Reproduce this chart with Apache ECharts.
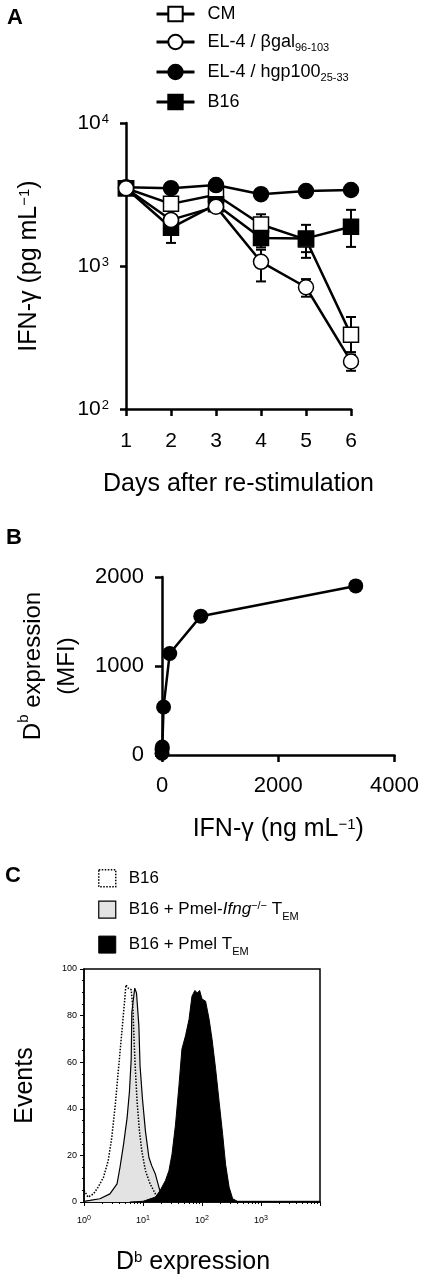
<!DOCTYPE html>
<html>
<head>
<meta charset="utf-8">
<script src="https://cdn.jsdelivr.net/npm/echarts@6/dist/echarts.min.js"></script>
<style>
body{margin:0;background:#fff;}
#wrap{position:relative;width:422px;height:1280px;}
.panel{position:absolute;left:0;width:422px;}
</style>
</head>
<body>
<div id="wrap">
  <div id="chartA" class="panel" style="top:0;height:510px"></div>
  <div id="chartB" class="panel" style="top:510px;height:340px"></div>
  <div id="chartC" class="panel" style="top:850px;height:430px"></div>
</div>
<script>
var FONT = "'Liberation Sans', Arial, sans-serif";

// ---- panel A data ----
var days = [1, 2, 3, 4, 5, 6];
var seriesNamesA = ['CM', 'EL-4 / βgal', 'EL-4 / hgp100', 'B16'];
var seriesSubsA = ['', '96-103', '25-33', ''];
var cmValues   = [3500, 2720, 3150, 1950, 1530, 330];
var bgalValues = [3500, 2100, 2600, 1070, 710, 215];
var hgpValues  = [3550, 3500, 3680, 3180, 3340, 3400];
var b16Values  = [3500, 1850, 2700, 1570, 1560, 1880];
var cmErrLow   = [null, null, null, 1650, 1250, 250];
var cmErrHigh  = [null, null, null, 2300, 1700, 440];
var bgalErrLow = [null, null, null, 780, 610, 185];
var bgalErrHigh= [null, null, null, 1300, 810, 240];
var b16ErrLow  = [null, 1450, null, 1350, 1140, 1360];
var b16ErrHigh = [null, 2250, null, 1800, 1940, 2470];

// ---- panel B data ----
var ifnDose = [0, 1.1, 5.3, 27, 133, 667, 3333];
var dbMfi   = [20, 60, 90, 540, 1140, 1560, 1900];

// ---- panel C data (histogram outlines: expression, events) ----
var b16X   = [1, 1.05, 1.17, 1.45, 1.74, 2.14, 2.57, 2.95, 3.39, 3.8, 4.37, 4.9, 5.13, 5.62, 6.31, 6.76, 7.08, 7.41, 7.94, 8.71, 9.55, 11, 13.2, 16.2, 18.6, 22.4, 30];
var b16Y   = [5, 4.2, 2.1, 3.5, 6.4, 10.6, 17.7, 27.5, 41.7, 55.8, 72.7, 86.9, 93.2, 91.8, 91.1, 82.6, 68.5, 57.2, 43.1, 30.4, 21.9, 13.4, 7.8, 3.5, 1.4, 0.3, 0];
var koX    = [1, 1.26, 1.86, 2.75, 3.63, 4.07, 4.68, 5.37, 5.89, 6.31, 6.46, 6.76, 7.24, 7.76, 8.51, 8.91, 9.77, 11, 12.6, 14.1, 16.2, 18.6, 20.4, 22.4, 28.2];
var koY    = [0.3, 0.7, 1.4, 3.5, 7.8, 14.8, 24.7, 36, 47.3, 61.4, 81.2, 85.5, 91.8, 89.7, 75.6, 58.6, 44.5, 30.4, 19.1, 15.5, 12, 6.4, 2.8, 0.7, 0];
var pmelX  = [6, 10, 16.2, 19.5, 24, 27.5, 31, 35.5, 40.7, 45.7, 52.5, 60.3, 67.6, 75.9, 83.2, 91.2, 100, 115, 132, 148, 170, 195, 224, 251, 288, 331, 398, 10000];
var pmelY  = [0, 0.3, 2.1, 4.9, 9.2, 13.4, 20.5, 33, 50, 65.7, 71.3, 78.4, 88.3, 90.8, 89.7, 90.8, 87.1, 86.2, 78.4, 69.9, 57.2, 43.1, 29, 16.2, 6.4, 1.4, 0.3, 0.3];
var legendC = ['B16', 'B16 + Pmel-Ifng', 'B16 + Pmel T'];

function pairs(xs, ys) {
    var out = [];
    for (var i = 0; i < xs.length; i++) out.push([xs[i], ys[i]]);
    return out;
}
function errData(lo, hi) {
    var out = [];
    for (var i = 0; i < days.length; i++) {
        if (lo[i] != null) out.push([days[i], lo[i], hi[i]]);
    }
    return out;
}
function renderErr(params, api) {
    var x = api.value(0);
    var p1 = api.coord([x, api.value(2)]);
    var p2 = api.coord([x, api.value(1)]);
    var w = 5, st = {stroke: '#000', lineWidth: 2};
    return {type: 'group', children: [
        {type: 'line', shape: {x1: p1[0], y1: p1[1], x2: p2[0], y2: p2[1]}, style: st},
        {type: 'line', shape: {x1: p1[0] - w, y1: p1[1], x2: p1[0] + w, y2: p1[1]}, style: st},
        {type: 'line', shape: {x1: p2[0] - w, y1: p2[1], x2: p2[0] + w, y2: p2[1]}, style: st}
    ]};
}
function pow10Label(v) {
    return '{b|10}{s|' + Math.round(Math.log(v) / Math.LN10) + '}';
}
function plainNum(v) {
    return String(v);
}

// ================= A =================
var chartA = echarts.init(document.getElementById('chartA'));
var lineStyleA = {color: '#000', width: 2.5};
function lineSeriesA(name, values, symbol, fill, z) {
    return {
        name: name, type: 'line', data: pairs(days, values),
        symbol: symbol, symbolSize: 15, z: z,
        lineStyle: lineStyleA,
        itemStyle: {color: fill, borderColor: '#000', borderWidth: 1.5}
    };
}
function errSeriesA(lo, hi) {
    return {type: 'custom', renderItem: renderErr, data: errData(lo, hi), z: 1, silent: true};
}
chartA.setOption({
    animation: false,
    textStyle: {fontFamily: FONT, color: '#000'},
    title: {text: 'A', left: 2, top: 2, textStyle: {fontFamily: FONT, fontSize: 22, fontWeight: 'bold', color: '#000'}},
    legend: {
        orient: 'vertical', left: 150, top: 0, itemGap: 10,
        itemWidth: 38, itemHeight: 18, selectedMode: false,
        lineStyle: {width: 3},
        data: seriesNamesA,
        formatter: function (name) {
            var i = seriesNamesA.indexOf(name);
            return '{n|' + name + '}' + (seriesSubsA[i] ? '{sub|' + seriesSubsA[i] + '}' : '');
        },
        textStyle: {
            fontFamily: FONT, color: '#000', padding: [0, 0, 0, 8],
            rich: {
                n: {fontFamily: FONT, fontSize: 18, color: '#000', lineHeight: 22},
                sub: {fontFamily: FONT, fontSize: 11, color: '#000', verticalAlign: 'bottom', lineHeight: 22}
            }
        }
    },
    grid: {left: 126, right: 71, top: 123, height: 286},
    xAxis: {
        type: 'value', min: 1, max: 6, interval: 1,
        name: 'Days after re-stimulation', nameLocation: 'middle', nameGap: 63,
        nameTextStyle: {fontFamily: FONT, fontSize: 25, color: '#000'},
        splitLine: {show: false},
        axisLine: {lineStyle: {color: '#000', width: 2.5}},
        axisTick: {length: 7, lineStyle: {color: '#000', width: 2.5}},
        axisLabel: {fontFamily: FONT, fontSize: 21, color: '#000', margin: 22}
    },
    yAxis: {
        type: 'log', min: 100, max: 10000, logBase: 10,
        name: '{n|IFN-γ (pg mL}{s|−1}{n|)}', nameLocation: 'middle', nameGap: 84,
        nameTextStyle: {rich: {
            n: {fontFamily: FONT, fontSize: 25, color: '#000'},
            s: {fontFamily: FONT, fontSize: 15, color: '#000', verticalAlign: 'top', padding: [0, 0, 8, 0]}
        }},
        splitLine: {show: false},
        axisLine: {lineStyle: {color: '#000', width: 2.5}},
        axisTick: {length: 6, lineStyle: {color: '#000', width: 2.5}},
        axisLabel: {
            margin: 17, formatter: pow10Label,
            rich: {
                b: {fontFamily: FONT, fontSize: 21, color: '#000'},
                s: {fontFamily: FONT, fontSize: 13, color: '#000', verticalAlign: 'top', padding: [0, 0, 8, 1]}
            }
        }
    },
    series: [
        errSeriesA(cmErrLow, cmErrHigh),
        errSeriesA(bgalErrLow, bgalErrHigh),
        errSeriesA(b16ErrLow, b16ErrHigh),
        lineSeriesA('CM', cmValues, 'rect', '#fff', 2),
        lineSeriesA('B16', b16Values, 'rect', '#000', 3),
        lineSeriesA('EL-4 / hgp100', hgpValues, 'circle', '#000', 4),
        lineSeriesA('EL-4 / βgal', bgalValues, 'circle', '#fff', 5)
    ]
});

// ================= B =================
var chartB = echarts.init(document.getElementById('chartB'));
chartB.setOption({
    animation: false,
    textStyle: {fontFamily: FONT, color: '#000'},
    title: {text: 'B', left: 1, top: 12, textStyle: {fontFamily: FONT, fontSize: 22, fontWeight: 'bold', color: '#000'}},
    grid: {left: 162, right: 25, top: 67, height: 178},
    xAxis: {
        type: 'value', min: 0, max: 4000, interval: 2000,
        name: '{n|IFN-γ (ng mL}{s|−1}{n|)}', nameLocation: 'middle', nameGap: 62,
        nameTextStyle: {rich: {
            n: {fontFamily: FONT, fontSize: 25, color: '#000'},
            s: {fontFamily: FONT, fontSize: 15, color: '#000', verticalAlign: 'top', padding: [0, 0, 8, 0]}
        }},
        splitLine: {show: false},
        axisLine: {onZero: false, lineStyle: {color: '#000', width: 2.5}},
        axisTick: {length: 7, lineStyle: {color: '#000', width: 2.5}},
        axisLabel: {fontFamily: FONT, fontSize: 22, color: '#000', margin: 20, formatter: plainNum}
    },
    yAxis: {
        type: 'value', min: 0, max: 2000, interval: 1000,
        name: '{n|D}{s|b}{n| expression}\n{n|(MFI)}', nameLocation: 'middle', nameGap: 78,
        nameTextStyle: {rich: {
            n: {fontFamily: FONT, fontSize: 24, color: '#000', lineHeight: 34},
            s: {fontFamily: FONT, fontSize: 15, color: '#000', verticalAlign: 'top', lineHeight: 34, padding: [0, 0, 8, 0]}
        }},
        splitLine: {show: false},
        axisLine: {onZero: false, lineStyle: {color: '#000', width: 2.5}},
        axisTick: {length: 7, lineStyle: {color: '#000', width: 2.5}},
        axisLabel: {fontFamily: FONT, fontSize: 22, color: '#000', margin: 18, formatter: plainNum}
    },
    series: [{
        type: 'line', data: pairs(ifnDose, dbMfi),
        symbol: 'circle', symbolSize: 15,
        lineStyle: {color: '#000', width: 2.5},
        itemStyle: {color: '#000'}
    }]
});

// ================= C =================
var chartC = echarts.init(document.getElementById('chartC'));
chartC.setOption({
    animation: false,
    textStyle: {fontFamily: FONT, color: '#000'},
    title: {text: 'C', left: 0, top: 10, textStyle: {fontFamily: FONT, fontSize: 22, fontWeight: 'bold', color: '#000'}},
    legend: {
        orient: 'vertical', left: 93, top: 14, itemGap: 13,
        itemWidth: 17, itemHeight: 17, selectedMode: false,
        data: [
            {name: legendC[0], icon: 'rect', itemStyle: {color: '#fff', borderColor: '#000', borderWidth: 1.5, borderType: 'dotted'}},
            {name: legendC[1], icon: 'rect', itemStyle: {color: '#e3e3e3', borderColor: '#000', borderWidth: 1.2}},
            {name: legendC[2], icon: 'rect', itemStyle: {color: '#000', borderColor: '#000', borderWidth: 1}}
        ],
        formatter: function (name) {
            if (name === legendC[1]) return '{n|B16 + Pmel-}{i|Ifng}{s|−/−}{n| T}{b|EM}';
            if (name === legendC[2]) return '{n|B16 + Pmel T}{b|EM}';
            return '{n|' + name + '}';
        },
        textStyle: {
            padding: [0, 0, 0, 8],
            rich: {
                n: {fontFamily: FONT, fontSize: 17, color: '#000', lineHeight: 18},
                i: {fontFamily: FONT, fontSize: 17, fontStyle: 'italic', color: '#000', lineHeight: 18},
                s: {fontFamily: FONT, fontSize: 11, color: '#000', verticalAlign: 'top', lineHeight: 18, padding: [0, 0, 6, 0]},
                b: {fontFamily: FONT, fontSize: 11, color: '#000', verticalAlign: 'bottom', lineHeight: 18, padding: [0, 0, -4, 0]}
            }
        }
    },
    grid: {left: 84, right: 102, top: 119, height: 236, show: true, borderColor: '#000', borderWidth: 1.5},
    xAxis: {
        type: 'log', min: 1, max: 10000, logBase: 10,
        name: '{n|D}{s|b}{n| expression}', nameLocation: 'middle', nameGap: 48,
        nameTextStyle: {padding: [0, 18, 0, 0], rich: {
            n: {fontFamily: FONT, fontSize: 25, color: '#000'},
            s: {fontFamily: FONT, fontSize: 15, color: '#000', verticalAlign: 'top', padding: [0, 0, 8, 0]}
        }},
        splitLine: {show: false},
        axisLine: {onZero: false, lineStyle: {color: '#000', width: 1.5}},
        axisTick: {length: 4, lineStyle: {color: '#000', width: 1}},
        minorTick: {show: true, splitNumber: 9, length: 2, lineStyle: {color: '#000', width: 1}},
        axisLabel: {
            margin: 13,
            formatter: function (v) {
                if (v >= 10000) return '';
                return pow10Label(v);
            },
            rich: {
                b: {fontFamily: FONT, fontSize: 9, color: '#000'},
                s: {fontFamily: FONT, fontSize: 7, color: '#000', verticalAlign: 'top', padding: [0, 0, 5, 0]}
            }
        }
    },
    yAxis: {
        type: 'value', min: 0, max: 100, interval: 20,
        name: 'Events', nameLocation: 'middle', nameGap: 46,
        nameTextStyle: {fontFamily: FONT, fontSize: 25, color: '#000'},
        splitLine: {show: false},
        axisLine: {onZero: false, lineStyle: {color: '#000', width: 1.5}},
        axisTick: {length: 4, lineStyle: {color: '#000', width: 1}},
        minorTick: {show: true, splitNumber: 4, length: 2, lineStyle: {color: '#000', width: 1}},
        axisLabel: {fontFamily: FONT, fontSize: 9, color: '#000', margin: 7}
    },
    series: [
        {
            name: legendC[1], type: 'line', data: pairs(koX, koY), symbol: 'none', z: 2,
            lineStyle: {color: '#000', width: 1.2},
            areaStyle: {color: '#e3e3e3', opacity: 1},
            itemStyle: {color: '#e3e3e3'}
        },
        {
            name: legendC[2], type: 'line', data: pairs(pmelX, pmelY), symbol: 'none', z: 3,
            lineStyle: {color: '#000', width: 1},
            areaStyle: {color: '#000', opacity: 1},
            itemStyle: {color: '#000'}
        },
        {
            name: legendC[0], type: 'line', data: pairs(b16X, b16Y), symbol: 'none', z: 4,
            lineStyle: {color: '#000', width: 1.5, type: 'dotted'},
            itemStyle: {color: '#fff'}
        }
    ]
});

window.addEventListener('resize', function () {
    chartA.resize();
    chartB.resize();
    chartC.resize();
});
</script>
</body>
</html>
